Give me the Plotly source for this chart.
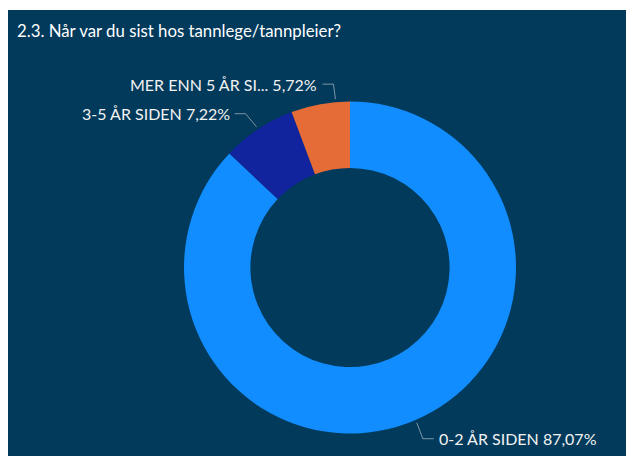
import math
import plotly.graph_objects as go

# ---- data ----
categories = ["0-2 ÅR SIDEN", "3-5 ÅR SIDEN", "MER ENN 5 ÅR SIDEN"]
label_texts = ["0-2 ÅR SIDEN", "3-5 ÅR SIDEN", "MER ENN 5 ÅR SI..."]
values = [87.07, 7.22, 5.72]
colors = ["#118DFF", "#12239E", "#E66C37"]
title_text = "2.3. Når var du sist hos tannlege/tannpleier?"

# ---- layout (page pixels; the page body adds an 8px offset) ----
OFF = 8
W, H = 634 - OFF, 456 - OFF
BG = "#013A5B"
FONT = "Lato"
cx, cy, R = 350, 267.5, 166
hole = 0.6
# per-label leader layout: anchor fraction along slice, elbow offset (dx, dy)
anchor_frac = [0.5, 0.5, 0.76]
elbow_off = [(6, 16), (-11, -13), (-2, -15)]
hseg = 11


def px(x):
    return (x - OFF) / W


def py(y):
    return 1 - (y - OFF) / H


fig = go.Figure()
fig.add_trace(go.Pie(
    labels=categories,
    values=values,
    marker=dict(colors=colors, line=dict(width=0)),
    hole=hole,
    sort=False,
    direction="clockwise",
    rotation=0,
    textinfo="none",
    hoverinfo="label+percent",
    showlegend=False,
    domain=dict(x=[px(cx - R), px(cx + R)], y=[py(cy + R), py(cy - R)]),
))

shapes = [dict(type="rect", xref="paper", yref="paper", layer="below",
               x0=px(6), x1=px(632), y0=0, y1=py(10),
               fillcolor=BG, line=dict(width=0))]
annotations = [dict(text=title_text, xref="paper", yref="paper",
                    x=px(15), y=py(31), xanchor="left", yanchor="middle",
                    showarrow=False,
                    font=dict(family=FONT, size=16.8, color="#FFFFFF"))]

total = sum(values)
start = 0.0
for i, v in enumerate(values):
    frac = v / total * 360
    ang = math.radians(start + frac * anchor_frac[i])
    start += frac
    p0 = (cx + (R + 3) * math.sin(ang), cy - (R + 3) * math.cos(ang))
    e = (p0[0] + elbow_off[i][0], p0[1] + elbow_off[i][1])
    side = 1 if p0[0] > cx else -1
    e2 = (e[0] + side * hseg, e[1])
    path = f"M {px(p0[0])},{py(p0[1])} L {px(e[0])},{py(e[1])} L {px(e2[0])},{py(e2[1])}"
    shapes.append(dict(type="path", xref="paper", yref="paper", path=path,
                       line=dict(color="rgba(170,180,190,0.75)", width=1)))
    pct = f"{v:.2f}".replace(".", ",") + "%"
    annotations.append(dict(text=f"{label_texts[i]} {pct}", xref="paper", yref="paper",
                            x=px(e2[0] + side * 3), y=py(e2[1]),
                            xanchor="left" if side > 0 else "right", yanchor="middle",
                            showarrow=False,
                            font=dict(family=FONT, size=16, color="#F2F2F2")))

fig.update_layout(
    width=W, height=H, autosize=False,
    margin=dict(l=0, r=0, t=0, b=0),
    paper_bgcolor="#FFFFFF",
    plot_bgcolor="#FFFFFF",
    shapes=shapes,
    annotations=annotations,
)

fig.write_html("out.html")
